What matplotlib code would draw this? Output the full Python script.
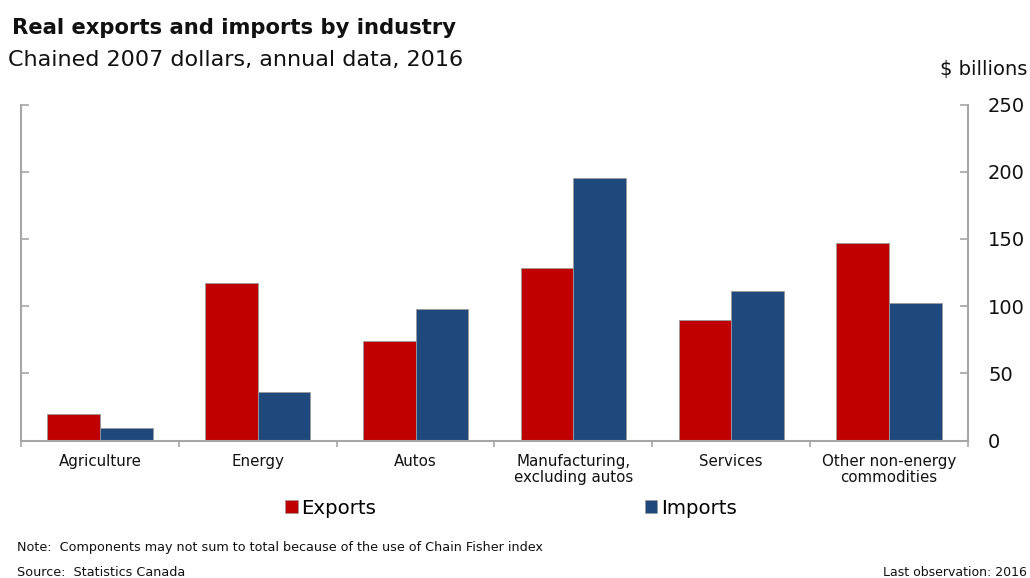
import matplotlib
matplotlib.use("Agg")
import matplotlib.pyplot as plt
import numpy as np
from matplotlib.patches import Patch

categories = ["Agriculture", "Energy", "Autos", "Manufacturing,\nexcluding autos",
              "Services", "Other non-energy\ncommodities"]
exports = [20, 117, 74, 128, 90, 147]
imports = [9.5, 36, 98, 195, 111, 102]
yticks = [0, 50, 100, 150, 200, 250]

RED = "#C00000"
BLUE = "#1F497D"
GRAY = "#A6A6A6"
TXT = "#111111"

plt.rcParams["font.family"] = ["DejaVu Sans"]

fig = plt.figure(figsize=(10.30, 5.78), dpi=100)
ax = fig.add_axes([21/1030, 1-440.5/578, (968-21)/1030, (440.5-104.5)/578])

x = np.arange(len(categories))
w = 1/3
ax.bar(x - w/2, exports, width=w, color=RED, edgecolor="#9a9a9a", linewidth=0.6, label="Exports")
ax.bar(x + w/2, imports, width=w, color=BLUE, edgecolor="#9a9a9a", linewidth=0.6, label="Imports")

ax.set_xlim(-0.5, len(categories) - 0.5)
ax.set_ylim(0, 250)

ax.spines["top"].set_visible(False)
for s in ["left", "right", "bottom"]:
    ax.spines[s].set_color(GRAY)
    ax.spines[s].set_linewidth(1.5)

ax.yaxis.tick_right()
ax.set_yticks(yticks)
ax.set_yticklabels([str(v) for v in yticks])
ax.tick_params(axis="y", which="both", direction="in", length=6, width=1.2, color=GRAY,
               left=True, right=True, labelleft=False, labelright=True,
               labelsize=14, pad=14.4, labelcolor=TXT)

ax.set_xticks(x)
ax.set_xticklabels(categories, fontsize=10.8, linespacing=1.15)
ax.tick_params(axis="x", which="major", length=0, pad=9.5, labelcolor=TXT)
ax.set_xticks(np.arange(len(categories) + 1) - 0.5, minor=True)
ax.tick_params(axis="x", which="minor", direction="out", length=4, width=1.2, color=GRAY)

fig.text(12/1030, 1-28/578, "Real exports and imports by industry", fontsize=15.2,
         fontweight="bold", va="center", ha="left", color=TXT)
fig.text(8/1030, 1-60/578, "Chained 2007 dollars, annual data, 2016", fontsize=16,
         va="center", ha="left", color=TXT)
fig.text(1027/1030, 1-70/578, "$ billions", fontsize=14, va="center", ha="right", color=TXT)

handles = [Patch(facecolor=RED, edgecolor="#9a9a9a", linewidth=0.5, label="Exports"),
           Patch(facecolor=BLUE, edgecolor="#9a9a9a", linewidth=0.5, label="Imports")]
fig.legend(handles=handles, loc="center", bbox_to_anchor=(511/1030, 1-508/578), ncol=2,
           frameon=False, fontsize=14.2, handlelength=0.62, handleheight=0.62,
           handletextpad=0.2, columnspacing=13.6, borderpad=0, borderaxespad=0)

fig.text(17/1030, 1-548/578, "Note:  Components may not sum to total because of the use of Chain Fisher index",
         fontsize=9.15, va="center", ha="left", color=TXT)
fig.text(17/1030, 1-572/578, "Source:  Statistics Canada", fontsize=9.15, va="center",
         ha="left", color=TXT)
fig.text(1027/1030, 1-572/578, "Last observation: 2016", fontsize=9, va="center",
         ha="right", color=TXT)

fig.savefig("out.png", dpi=100)
